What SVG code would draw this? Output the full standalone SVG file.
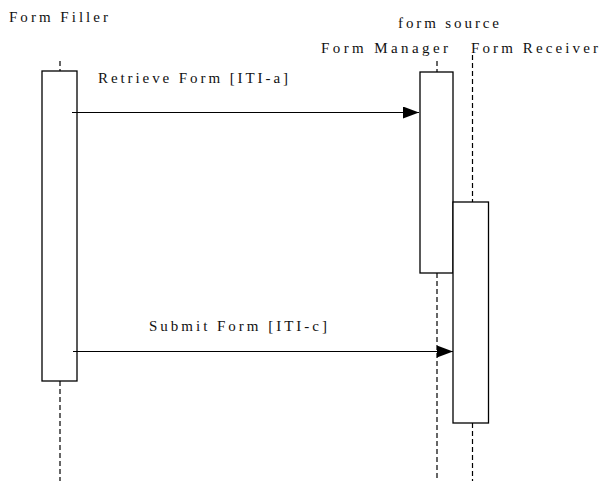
<svg xmlns="http://www.w3.org/2000/svg" width="600" height="483" viewBox="0 0 600 483">
<defs>
<style>
.t{font-family:"Liberation Serif","Times New Roman",serif;font-size:15px;fill:#111}
.life{stroke:#000;stroke-width:1.2;stroke-dasharray:5,3;fill:none}
.act{fill:#fff;stroke:#000;stroke-width:1.3}
.msg{stroke:#000;stroke-width:1.2;fill:none}
</style>
<marker id="ah" markerWidth="16" markerHeight="12" refX="16" refY="6" orient="auto" markerUnits="userSpaceOnUse">
<path d="M0,0 L16,6 L0,12 Z" fill="#000"/>
</marker>
</defs>
<rect width="600" height="483" fill="#fff"/>
<g id="lifelines">
<line class="life" x1="60" y1="61" x2="60" y2="71"/>
<line class="life" x1="60" y1="381" x2="60" y2="481"/>
<line class="life" x1="437" y1="61" x2="437" y2="72"/>
<line class="life" x1="437" y1="273" x2="437" y2="481"/>
<line class="life" x1="472.5" y1="55" x2="472.5" y2="202"/>
<line class="life" x1="472.5" y1="423" x2="472.5" y2="481"/>
</g>
<g id="form-filler">
<text class="t" x="9" y="22" textLength="99" lengthAdjust="spacing">Form Filler</text>
<rect class="act" x="42" y="71" width="35" height="310"/>
</g>
<g id="form-manager">
<text class="t" x="398" y="28" textLength="101" lengthAdjust="spacing">form source</text>
<text class="t" x="321" y="53" textLength="127" lengthAdjust="spacing">Form Manager</text>
<rect class="act" x="420" y="72" width="33" height="201"/>
</g>
<g id="form-receiver">
<text class="t" x="471" y="53" textLength="127" lengthAdjust="spacing">Form Receiver</text>
<rect class="act" x="453" y="202" width="35.5" height="221"/>
</g>
<g id="connectors">
<line class="msg" x1="72" y1="112.5" x2="419" y2="112.5" marker-end="url(#ah)"/>
<text class="t" x="98" y="83" textLength="190" lengthAdjust="spacing">Retrieve Form [ITI-a]</text>
<line class="msg" x1="73" y1="351.5" x2="453" y2="351.5" marker-end="url(#ah)"/>
<text class="t" x="149" y="331" textLength="178" lengthAdjust="spacing">Submit Form [ITI-c]</text>
</g>
</svg>
